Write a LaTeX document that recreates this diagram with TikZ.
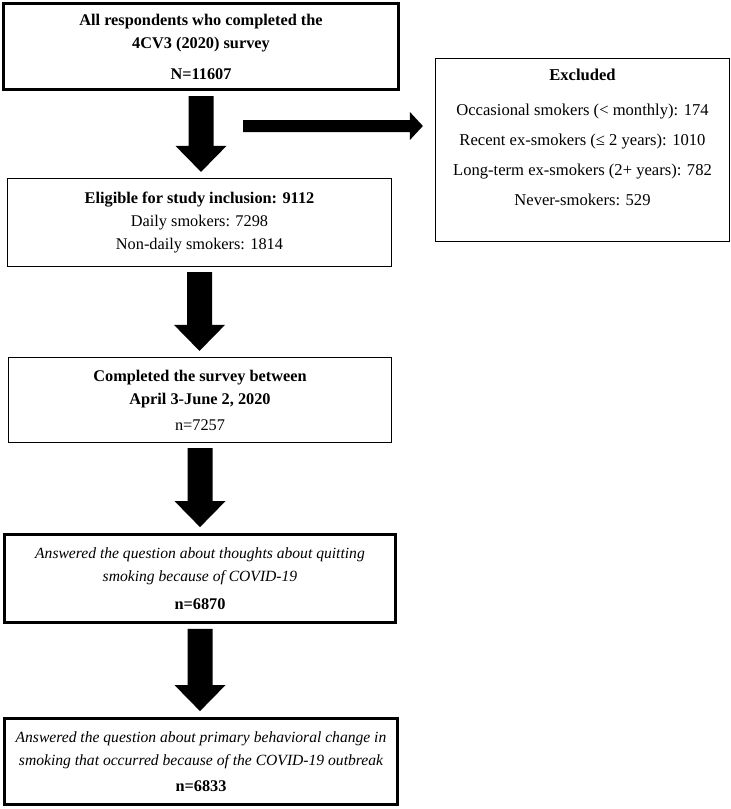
\documentclass[tikz,border=0pt]{standalone}
\usepackage{fontspec}
\setmainfont{Liberation Serif}
\usetikzlibrary{calc}
\newcommand{\itline}[1]{{\fontsize{15.6}{23}\selectfont\itshape #1}}
\begin{document}
\begin{tikzpicture}[x=1pt,y=-1pt,
  box/.style={draw=black, rectangle, align=center, inner sep=0pt, font=\fontsize{16.3}{23}\selectfont},
  thinbox/.style={box, line width=1.2pt},
  thickbox/.style={box, line width=2.8pt},
  boxtext/.style={align=center, inner sep=0pt, font=\fontsize{16.6}{30}\selectfont},
  blockarrow/.style={fill=black, draw=none}]
\useasboundingbox (0,0) rectangle (731,809);
\fill[white] (0,0) rectangle (731,809);

\node[thickbox, minimum width=395.5pt, minimum height=86.5pt] (top) at (201,46.5)
  {\textbf{All respondents who completed the}\\ \textbf{4CV3 (2020) survey}\\[8pt] \textbf{N=11607}};

\node[thinbox, minimum width=384pt, minimum height=88pt] (elig) at (199.5,222.5)
  {\textbf{Eligible for study inclusion: 9112}\\ Daily smokers: 7298\\ Non-daily smokers: 1814};

\node[thinbox, minimum width=383pt, minimum height=85pt] (comp) at (200,400)
  {\textbf{Completed the survey between}\\ \textbf{April 3-June 2, 2020}\\[3pt] n=7257};

\node[thickbox, minimum width=391pt, minimum height=88pt] (ans1) at (200,578.5)
  {\itline{Answered the question about thoughts about quitting}\\ \itline{smoking because of COVID-19}\\[5pt] \textbf{n=6870}};

\node[thickbox, minimum width=393pt, minimum height=86pt] (ans2) at (201,761.5)
  {\itline{Answered the question about primary behavioral change in}\\ \itline{smoking that occurred because of the COVID-19 outbreak}\\[3pt] \textbf{n=6833}};

\node[thinbox, minimum width=294pt, minimum height=183pt] (exc) at (582.5,150) {};
\node[boxtext, anchor=north] (exctext) at (582.5,69)
  {\textbf{Excluded}\\[5pt] Occasional smokers (< monthly): 174\\ Recent ex-smokers (≤ 2 years): 1010\\ Long-term ex-smokers (2+ years): 782\\ Never-smokers: 529};

% vertical block arrows
\foreach \a/\b in {top/elig, elig/comp, comp/ans1, ans1/ans2} {
  \fill[blockarrow] let \p1=(\a.south), \p2=(\b.north) in
    (\x1-12.5pt,\y1-5pt) -- (\x1+12.5pt,\y1-5pt) -- (\x1+12.5pt,\y2+32pt) --
    (\x1+25.5pt,\y2+32pt) -- (\x1,\y2+6pt) -- (\x1-25.5pt,\y2+32pt) --
    (\x1-12.5pt,\y2+32pt) -- cycle;
}

% horizontal block arrow to the excluded box
\coordinate (hstart) at (243,126);
\fill[blockarrow] let \p1=(hstart), \p2=(exc.west) in
  (\x1,\y1+6pt) -- (\x2-25pt,\y1+6pt) -- (\x2-25pt,\y1+14pt) -- (\x2-12pt,\y1) --
  (\x2-25pt,\y1-14pt) -- (\x2-25pt,\y1-6pt) -- (\x1,\y1-6pt) -- cycle;
\end{tikzpicture}
\end{document}
